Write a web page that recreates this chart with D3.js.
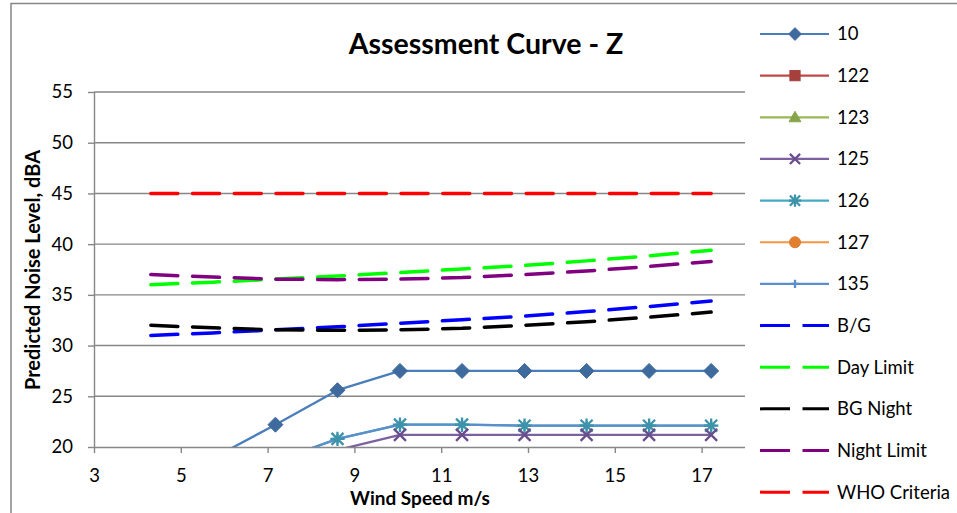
<!DOCTYPE html>
<html>
<head>
<meta charset="utf-8">
<script src="https://cdn.jsdelivr.net/npm/d3@7"></script>
<style>
  html, body { margin: 0; padding: 0; background: #ffffff; }
  svg { display: block; font-family: Lato, "Open Sans", "DejaVu Sans", sans-serif; }
</style>
</head>
<body>
<svg id="chart" width="957" height="513"></svg>
<script>
// Wind speed at hub height (m/s)
const windSpeed = [4.31, 5.74, 7.18, 8.61, 10.05, 11.48, 12.92, 14.35, 15.79, 17.22];

// Predicted turbine noise at each receptor (dBA)
const rec10  = [15.6, 18.9, 22.2, 25.6, 27.5, 27.5, 27.5, 27.5, 27.5, 27.5];
const rec122 = [9.9, 12.8, 15.6, 17.6, 18.5, 18.5, 18.5, 18.5, 18.5, 18.5];
const rec123 = [9.4, 12.3, 15.1, 17.1, 18.0, 18.0, 18.0, 18.0, 18.0, 18.0];
const rec125 = [11.0, 14.2, 17.3, 19.7, 21.2, 21.2, 21.2, 21.2, 21.2, 21.2];
const rec126 = [12.1, 15.3, 18.6, 20.8, 22.2, 22.2, 22.1, 22.1, 22.1, 22.1];
const rec127 = [8.6, 11.4, 14.2, 16.3, 17.2, 17.2, 17.2, 17.2, 17.2, 17.2];
const rec135 = [12.1, 15.3, 18.6, 20.8, 22.2, 22.2, 22.1, 22.1, 22.1, 22.1];

// Background levels and limits (dBA)
const bgDay      = [31.0, 31.25, 31.55, 31.85, 32.2, 32.55, 32.9, 33.35, 33.85, 34.4];
const dayLimit   = [36.0, 36.25, 36.55, 36.85, 37.2, 37.55, 37.9, 38.35, 38.85, 39.4];
const bgNight    = [32.0, 31.75, 31.55, 31.5, 31.55, 31.7, 32.0, 32.35, 32.8, 33.3];
const nightLimit = [37.0, 36.75, 36.55, 36.5, 36.55, 36.7, 37.0, 37.35, 37.8, 38.3];
const whoLimit   = [45, 45, 45, 45, 45, 45, 45, 45, 45, 45];

// Axis ticks
const xTicks = [3, 5, 7, 9, 11, 13, 15, 17];
const yTicks = [20, 25, 30, 35, 40, 45, 50, 55];

const series = [
  { name: "10",          values: rec10,      color: "#4A7EBB", mcolor: "#3F6A9E", marker: "diamond" },
  { name: "122",         values: rec122,     color: "#BE4B48", mcolor: "#A5403D", marker: "square" },
  { name: "123",         values: rec123,     color: "#98B954", mcolor: "#86A44A", marker: "triangle" },
  { name: "125",         values: rec125,     color: "#7D60A0", mcolor: "#6A4E8C", marker: "x" },
  { name: "126",         values: rec126,     color: "#46AAC5", mcolor: "#3C93AA", marker: "star" },
  { name: "127",         values: rec127,     color: "#F69546", mcolor: "#E07F30", marker: "circle" },
  { name: "135",         values: rec135,     color: "#5B8FCC", mcolor: "#5B8FCC", marker: "plus" },
  { name: "B/G",         values: bgDay,      color: "#0000FF", dashed: true },
  { name: "Day Limit",   values: dayLimit,   color: "#00FF00", dashed: true },
  { name: "BG Night",    values: bgNight,    color: "#000000", dashed: true },
  { name: "Night Limit", values: nightLimit, color: "#800080", dashed: true },
  { name: "WHO Criteria",values: whoLimit,   color: "#FF0000", dashed: true }
];

const svg = d3.select("#chart");
const plot = { left: 94, right: 745, top: 92, bottom: 447 };
const grey = "#878787";

const x = d3.scaleLinear().domain([3, 18]).range([plot.left, plot.right]);
const y = d3.scaleLinear().domain([20, 55]).range([plot.bottom, plot.top]);

// Chart frame (top and left edges)
svg.append("line").attr("x1", 11).attr("x2", 957).attr("y1", 3.5).attr("y2", 3.5)
  .attr("stroke", grey).attr("stroke-width", 1.5);
svg.append("line").attr("x1", 11).attr("x2", 11).attr("y1", 3).attr("y2", 513)
  .attr("stroke", grey).attr("stroke-width", 1.5);

// Horizontal gridlines
svg.append("g").selectAll("line").data(yTicks.filter(d => d > 20)).join("line")
  .attr("x1", plot.left).attr("x2", plot.right)
  .attr("y1", d => y(d)).attr("y2", d => y(d))
  .attr("stroke", grey).attr("stroke-width", 1.4);

// Axes
const xAxis = svg.append("g").attr("transform", `translate(0,${plot.bottom})`)
  .call(d3.axisBottom(x).tickValues(xTicks).tickSize(6).tickPadding(16).tickFormat(d3.format("d")));
const yAxis = svg.append("g").attr("transform", `translate(${plot.left},0)`)
  .call(d3.axisLeft(y).tickValues(yTicks).tickSize(6).tickPadding(15).tickFormat(d3.format("d")));
[xAxis, yAxis].forEach(a => {
  a.select(".domain").attr("stroke", grey).attr("stroke-width", 1.4);
  a.selectAll(".tick line").attr("stroke", grey).attr("stroke-width", 1.4);
  a.selectAll(".tick text").attr("fill", "#000").style("font-size", "18.5px")
    .style("font-family", "Lato, 'Open Sans', sans-serif");
});
xAxis.select(".domain").attr("d", `M${plot.left},0.5H${plot.right}`);
yAxis.select(".domain").attr("d", `M0.5,${plot.top}V${plot.bottom}`);

// Plot-area clip
svg.append("clipPath").attr("id", "plotClip").append("rect")
  .attr("x", plot.left).attr("y", plot.top)
  .attr("width", plot.right - plot.left).attr("height", plot.bottom - plot.top);

const line = d3.line().x((d, i) => x(windSpeed[i])).y(d => y(d));
const lines = svg.append("g").attr("clip-path", "url(#plotClip)");

series.forEach(s => {
  const p = lines.append("path").datum(s.values)
    .attr("d", line).attr("fill", "none").attr("stroke", s.color);
  if (s.dashed) {
    p.attr("stroke-width", 3.5).attr("stroke-linecap", "round").attr("stroke-dasharray", "27,14.7");
  } else {
    p.attr("stroke-width", 2.3).attr("stroke-linejoin", "round");
  }
});

// Marker shapes
function drawMarker(g, type, cx, cy, color, scale) {
  const k = scale || 1;
  if (type === "diamond") {
    const r = 7.5 * k;
    g.append("path").attr("d", `M${cx},${cy - r}L${cx + r},${cy}L${cx},${cy + r}L${cx - r},${cy}Z`)
      .attr("fill", color).attr("stroke", color).attr("stroke-width", 1);
  } else if (type === "square") {
    const r = 6 * k;
    g.append("rect").attr("x", cx - r).attr("y", cy - r).attr("width", 2 * r).attr("height", 2 * r)
      .attr("fill", color).attr("stroke", color);
  } else if (type === "triangle") {
    const r = 7 * k;
    g.append("path").attr("d", `M${cx},${cy - r}L${cx + r},${cy + r * 0.75}L${cx - r},${cy + r * 0.75}Z`)
      .attr("fill", color).attr("stroke", color);
  } else if (type === "circle") {
    g.append("circle").attr("cx", cx).attr("cy", cy).attr("r", 6.5 * k).attr("fill", color).attr("stroke", color);
  } else if (type === "x" || type === "star" || type === "plus") {
    const r = 6 * k;
    let d = "";
    if (type !== "plus") d += `M${cx - r},${cy - r}L${cx + r},${cy + r}M${cx - r},${cy + r}L${cx + r},${cy - r}`;
    if (type === "star") d += `M${cx},${cy - r * 1.2}V${cy + r * 1.2}M${cx - r * 1.2},${cy}H${cx + r * 1.2}`;
    if (type === "plus") d += `M${cx},${cy - r * 0.8}V${cy + r * 0.8}M${cx - r * 0.8},${cy}H${cx + r * 0.8}`;
    g.append("path").attr("d", d).attr("fill", "none").attr("stroke", color).attr("stroke-width", 2.3);
  }
}

const marks = svg.append("g").attr("clip-path", "url(#plotClip)");
series.filter(s => s.marker).slice().reverse().forEach(s => {
  s.values.forEach((v, i) => {
    if (v < 20) return;
    drawMarker(marks, s.marker, x(windSpeed[i]), y(v), s.mcolor);
  });
});

// Legend
const legend = svg.append("g");
series.forEach((s, i) => {
  const cy = 34 + i * 41.65;
  const l = legend.append("line").attr("x1", 760).attr("x2", 829).attr("y1", cy).attr("y2", cy)
    .attr("stroke", s.color);
  if (s.dashed) {
    l.attr("stroke-width", 3).attr("stroke-dasharray", "30,12.5");
  } else {
    l.attr("stroke-width", 2.2);
    drawMarker(legend, s.marker, 795, cy, s.mcolor, 0.85);
  }
  legend.append("text").attr("x", 837).attr("y", cy).attr("dy", "0.35em")
    .style("font-size", "18.5px").text(s.name);
});

// Titles
svg.append("text").attr("x", 486).attr("y", 54).attr("text-anchor", "middle")
  .style("font-size", "28.5px").style("font-weight", "bold").text("Assessment Curve - Z");
svg.append("text").attr("x", 420).attr("y", 505).attr("text-anchor", "middle")
  .style("font-size", "19px").style("font-weight", "bold").text("Wind Speed m/s");
svg.append("text").attr("transform", "translate(40,270) rotate(-90)").attr("text-anchor", "middle")
  .style("font-size", "20px").style("font-weight", "bold").text("Predicted Noise Level, dBA");
</script>
</body>
</html>
